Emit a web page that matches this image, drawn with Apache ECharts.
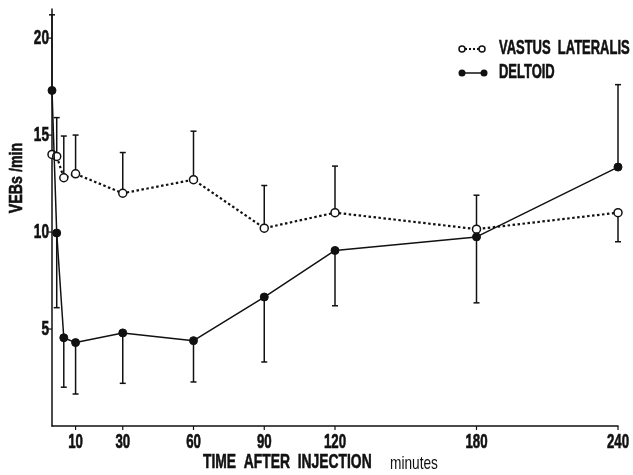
<!DOCTYPE html>
<html>
<head>
<meta charset="utf-8">
<script src="https://cdn.jsdelivr.net/npm/echarts@6/dist/echarts.min.js"></script>
<style>
  html, body { margin: 0; padding: 0; background: #fff; }
  #chart { width: 633px; height: 475px; }
</style>
</head>
<body>
<div id="chart"></div>
<script>
// Sampling times (minutes after injection)
const times = [0, 2, 5, 10, 30, 60, 90, 120, 180, 240];
const xTicks = [10, 30, 60, 90, 120, 180, 240];
const yTicks = [5, 10, 15, 20];

// VEBs per minute, mean values
const vastus  = [14.0, 13.9, 12.8, 13.0, 12.0, 12.7, 10.2, 11.0, 10.15, 11.0];
const deltoid = [17.3, 9.95, 4.55, 4.3, 4.8, 4.4, 6.65, 9.05, 9.75, 13.35];

// End point of each error bar (one-sided)
const vastusErr  = [null, 15.9, 14.95, 15.0, 14.1, 15.2, 12.4, 13.4, 11.9, 9.5];
const deltoidErr = [21.2, 6.1, 2.0, 1.65, 2.2, 2.27, 3.3, 6.2, 6.35, 17.6];

const FONT = "'Liberation Sans', Arial, sans-serif";
const NARROW = 0.68; // horizontal squeeze for a condensed look
const INK = '#111';

// heavy condensed text style
function bold(text, size, extra) {
  return Object.assign({ text, font: 'bold ' + size + 'px ' + FONT, fill: INK, stroke: INK, lineWidth: 0.6 }, extra || {});
}

function pairs(vals) { return times.map((t, i) => [t, vals[i]]); }
function bars(vals, ends) {
  return times.map((t, i) => [t, vals[i], ends[i]]).filter(d => d[2] != null);
}

function renderErr(params, api) {
  const t = api.value(0);
  const p1 = api.coord([t, api.value(1)]);
  const p2 = api.coord([t, api.value(2)]);
  const cap = 3;
  const style = { stroke: INK, lineWidth: 1.5 };
  return {
    type: 'group',
    children: [
      { type: 'line', shape: { x1: p1[0], y1: p1[1], x2: p2[0], y2: p2[1] }, style },
      { type: 'line', shape: { x1: p2[0] - cap, y1: p2[1], x2: p2[0] + cap, y2: p2[1] }, style }
    ]
  };
}

const chart = echarts.init(document.getElementById('chart'), null, { renderer: 'canvas' });

const option = {
  backgroundColor: '#fff',
  animation: false,
  grid: { left: 52, right: 15, top: 9, bottom: 49, containLabel: false },
  xAxis: {
    type: 'value',
    min: 0, max: 240,
    interval: 10,
    axisLine: { lineStyle: { color: INK, width: 1.5 } },
    axisTick: { show: false },
    axisLabel: { show: false },
    splitLine: { show: false }
  },
  yAxis: {
    type: 'value',
    min: 0, max: 21.5,
    interval: 5,
    axisLine: { show: true, lineStyle: { color: INK, width: 1.5 } },
    axisTick: { show: false },
    axisLabel: { show: false },
    splitLine: { show: false }
  },
  series: [
    {
      name: 'VASTUS LATERALIS err',
      type: 'custom',
      renderItem: renderErr,
      data: bars(vastus, vastusErr),
      clip: false, z: 1, silent: true
    },
    {
      name: 'DELTOID err',
      type: 'custom',
      renderItem: renderErr,
      data: bars(deltoid, deltoidErr),
      clip: false, z: 1, silent: true
    },
    {
      // x tick marks and labels, placed by the value axis
      name: 'x ticks',
      type: 'custom',
      data: xTicks.map(v => [v, 0]),
      clip: false, z: 3, silent: true,
      renderItem: function (params, api) {
        const p = api.coord([api.value(0), 0]);
        return {
          type: 'group',
          children: [
            { type: 'line', shape: { x1: p[0], y1: p[1], x2: p[0], y2: p[1] + 4 }, style: { stroke: INK, lineWidth: 1.2 } },
            { type: 'text', x: p[0], y: p[1] + 7, scaleX: NARROW, style: bold(String(api.value(0)), 19.5, { align: 'center', verticalAlign: 'top' }) }
          ]
        };
      }
    },
    {
      name: 'y ticks',
      type: 'custom',
      data: yTicks.map(v => [0, v]),
      clip: false, z: 3, silent: true,
      renderItem: function (params, api) {
        const p = api.coord([0, api.value(1)]);
        return {
          type: 'group',
          children: [
            { type: 'line', shape: { x1: p[0] - 4, y1: p[1], x2: p[0], y2: p[1] }, style: { stroke: INK, lineWidth: 1.2 } },
            { type: 'text', x: p[0] - 3, y: p[1], scaleX: NARROW, style: bold(String(api.value(1)), 20, { align: 'right', verticalAlign: 'middle' }) }
          ]
        };
      }
    },
    {
      name: 'VASTUS LATERALIS',
      type: 'line',
      data: pairs(vastus),
      symbol: 'circle', symbolSize: 8,
      itemStyle: { color: '#fff', borderColor: INK, borderWidth: 1.5 },
      lineStyle: { color: INK, width: 2.2, type: [2.5, 2.5] },
      z: 5
    },
    {
      name: 'DELTOID',
      type: 'line',
      data: pairs(deltoid),
      symbol: 'circle', symbolSize: 8,
      itemStyle: { color: INK, borderColor: INK, borderWidth: 1 },
      lineStyle: { color: INK, width: 1.5 },
      z: 6
    }
  ],
  graphic: [
    // legend rows
    { type: 'line', shape: { x1: 465, y1: 49, x2: 479, y2: 49 }, style: { stroke: INK, lineWidth: 2, lineDash: [2, 2] } },
    { type: 'circle', shape: { cx: 462, cy: 49, r: 3 }, style: { fill: '#fff', stroke: INK, lineWidth: 1.5 } },
    { type: 'circle', shape: { cx: 482, cy: 49, r: 3 }, style: { fill: '#fff', stroke: INK, lineWidth: 1.5 } },
    { type: 'text', x: 499, y: 49, scaleX: 0.665, style: bold('VASTUS  LATERALIS', 19.5, { verticalAlign: 'middle' }) },
    { type: 'line', shape: { x1: 462, y1: 73, x2: 484, y2: 73 }, style: { stroke: INK, lineWidth: 1.5 } },
    { type: 'circle', shape: { cx: 462, cy: 73, r: 3.5 }, style: { fill: INK } },
    { type: 'circle', shape: { cx: 484, cy: 73, r: 3.5 }, style: { fill: INK } },
    { type: 'text', x: 499, y: 73, scaleX: 0.665, style: bold('DELTOID', 19.5, { verticalAlign: 'middle' }) },
    // axis titles
    { type: 'text', x: 203, y: 462, scaleX: 0.66, style: bold('TIME  AFTER  INJECTION', 21, { verticalAlign: 'middle' }) },
    { type: 'text', x: 390, y: 464, scaleX: 0.72, style: { text: 'minutes', font: '19px ' + FONT, fill: INK, verticalAlign: 'middle' } },
    { type: 'text', x: 17, y: 178, rotation: Math.PI / 2, scaleX: 0.79, style: bold('VEBs /min', 18, { align: 'center', verticalAlign: 'middle' }) }
  ]
};

chart.setOption(option);
</script>
</body>
</html>
